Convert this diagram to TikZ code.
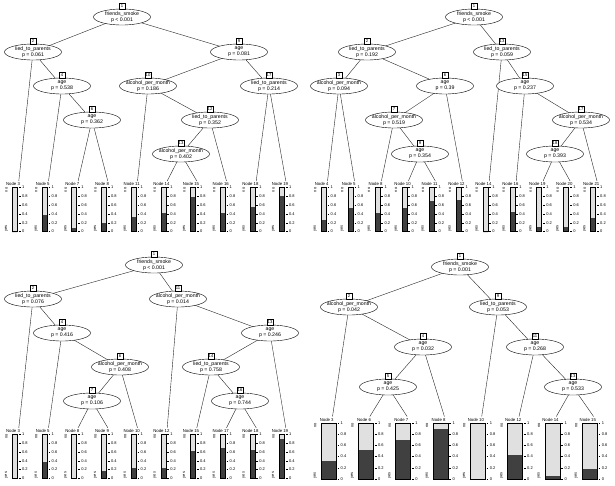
\documentclass[tikz,border=0pt]{standalone}
\usepackage{fontspec}
\setmainfont{Liberation Sans}
\usetikzlibrary{shapes.geometric,calc,backgrounds}
\tikzset{
  inner/.style={ellipse, draw, fill=white, line width=0.4pt, minimum width=57pt, minimum height=16pt, inner sep=0pt},
  itext/.style={font=\fontsize{5.2}{6}\selectfont, align=center, inner sep=0pt},
  idbox/.style={draw, fill=white, line width=0.3pt, font=\fontsize{4.2}{5}\selectfont, inner sep=0.7pt, minimum height=5.5pt, minimum width=5.5pt, anchor=south},
  elab/.style={fill=white, inner sep=0.4pt, font=\fontsize{5.1}{6}\selectfont},
  edge/.style={line width=0.4pt, draw=black!85},
  tlab/.style={font=\fontsize{4.3}{5}\selectfont, inner sep=0pt},
  axlab/.style={font=\fontsize{4}{5}\selectfont, inner sep=0pt, anchor=west},
  lvl/.style={font=\fontsize{4}{5}\selectfont, inner sep=0pt},
  lightfill/.style={fill=black!12},
  darkfill/.style={fill=black!75},
  barframe/.style={line width=0.35pt},
}
% inner node: name, x, y, id, text
\newcommand\inode[5]{%
  \node[inner, label={[itext]center:{#5}}] (#1) at (#2,#3) {};
  \node[idbox] (#1id) at (#1.north) {#4};
}
% terminal node: name, number, xleft, ytop, width, height, fraction yes
\newcommand\termnode[7]{%
  \coordinate (#1) at ({#3+#5/2+4},{#4-6.5});
  \fill[lightfill] (#3,#4) rectangle ({#3+#5},{#4+#6});
  \fill[darkfill] (#3,{#4+#6}) rectangle ({#3+#5},{#4+#6-#7*#6});
  \draw[barframe] (#3,#4) rectangle ({#3+#5},{#4+#6});
  \foreach \axv/\axt in {0/0,0.2/0.2,0.4/0.4,0.6/0.6,0.8/0.8,1/1}{
    \draw[barframe] ({#3+#5+1.5},{#4+#6-\axv*#6}) -- ({#3+#5+3.2},{#4+#6-\axv*#6});
    \node[axlab] at ({#3+#5+4.5},{#4+#6-\axv*#6}) {\axt};
  }
  \node[tlab] (#1lab) at ({#3+#5/2-1.8},{#4-3.5}) {Node #2};
  \node[lvl, rotate=90, anchor=east] at ({#3-5.8},#4) {no};
  \node[lvl, rotate=90, anchor=west] at ({#3-5.8},{#4+#6}) {yes};
}
% edge: parent, child point, label y, label text
\newcommand\tedge[4]{%
  \draw[edge] (#1.center) -- (#2);
  \path let \p1=(#1.center), \p2=(#2) in
    node[elab] at ($(#1.center)!{(#3+(\y1))/((\y1)-(\y2))}!(#2)$) {#4};
}
\begin{document}
\begin{tikzpicture}[x=1pt,y=-1pt]
\path[use as bounding box] (0,0) rectangle (615,485);

% ================= Panel A (top left)
\inode{A1}{122}{17}{1}{friends\_smoke\\p < 0.001}
\inode{A2}{33}{52}{2}{lied\_to\_parents\\p = 0.061}
\inode{A9}{239}{52}{9}{age\\p = 0.081}
\inode{A4}{62}{86}{4}{age\\p = 0.538}
\inode{A10}{148}{86}{10}{alcohol\_per\_month\\p = 0.186}
\inode{A17}{269}{86}{17}{lied\_to\_parents\\p = 0.214}
\inode{A6}{92}{120}{6}{age\\p = 0.362}
\inode{A12}{210}{120}{12}{lied\_to\_parents\\p = 0.352}
\inode{A13}{181}{154}{13}{alcohol\_per\_month\\p = 0.402}
\termnode{A3}{3}{12.3}{187.5}{5}{44}{0}
\termnode{A5}{5}{42.0}{187.5}{5}{44}{0.38}
\termnode{A7}{7}{71.6}{187.5}{5}{44}{0.07}
\termnode{A8}{8}{101.3}{187.5}{5}{44}{0.19}
\termnode{A11}{11}{131.0}{187.5}{5}{44}{0.32}
\termnode{A14}{14}{160.7}{187.5}{5}{44}{0.42}
\termnode{A15}{15}{190.3}{187.5}{5}{44}{0.79}
\termnode{A16}{16}{220.0}{187.5}{5}{44}{0.41}
\termnode{A18}{18}{249.7}{187.5}{5}{44}{0.55}
\termnode{A19}{19}{279.3}{187.5}{5}{44}{0.81}

% ================= Panel B (top right)
\inode{B1}{474}{17}{1}{friends\_smoke\\p < 0.001}
\inode{B2}{367}{52}{2}{lied\_to\_parents\\p = 0.192}
\inode{B13}{502}{52}{13}{lied\_to\_parents\\p = 0.059}
\inode{B3}{339}{86}{3}{alcohol\_per\_month\\p = 0.094}
\inode{B6}{445}{86}{6}{age\\p = 0.39}
\inode{B15}{525}{86}{15}{age\\p = 0.237}
\inode{B7}{394}{120}{7}{alcohol\_per\_month\\p = 0.519}
\inode{B17}{581}{120}{17}{alcohol\_per\_month\\p = 0.534}
\inode{B9}{420}{154}{9}{age\\p = 0.354}
\inode{B18}{555}{154}{18}{age\\p = 0.393}
\termnode{B4}{4}{321.0}{187.5}{5}{44}{0.26}
\termnode{B5}{5}{348.0}{187.5}{5}{44}{0.53}
\termnode{B8}{8}{374.9}{187.5}{5}{44}{0.41}
\termnode{B10}{10}{401.9}{187.5}{5}{44}{0.53}
\termnode{B11}{11}{428.8}{187.5}{5}{44}{0.70}
\termnode{B12}{12}{455.8}{187.5}{5}{44}{0.71}
\termnode{B14}{14}{482.7}{187.5}{5}{44}{0}
\termnode{B16}{16}{509.7}{187.5}{5}{44}{0.45}
\termnode{B19}{19}{536.6}{187.5}{5}{44}{0.10}
\termnode{B20}{20}{563.6}{187.5}{5}{44}{0.10}
\termnode{B21}{21}{590.5}{187.5}{5}{44}{0.30}

% ================= Panel C (bottom left)
\inode{C1}{154}{265}{1}{friends\_smoke\\p < 0.001}
\inode{C2}{33}{299}{2}{lied\_to\_parents\\p = 0.076}
\inode{C11}{178}{299}{11}{alcohol\_per\_month\\p = 0.014}
\inode{C4}{62}{333}{4}{age\\p = 0.416}
\inode{C13}{270}{333}{13}{age\\p = 0.246}
\inode{C6}{120}{367}{6}{alcohol\_per\_month\\p = 0.408}
\inode{C14}{211}{367}{14}{lied\_to\_parents\\p = 0.758}
\inode{C7}{92}{401}{7}{age\\p = 0.106}
\inode{C16}{240}{401}{16}{age\\p = 0.744}
\termnode{C3}{3}{12.3}{434.3}{5}{44}{0}
\termnode{C5}{5}{42.0}{434.3}{5}{44}{0.36}
\termnode{C8}{8}{71.6}{434.3}{5}{44}{0}
\termnode{C9}{9}{101.3}{434.3}{5}{44}{0.17}
\termnode{C10}{10}{131.0}{434.3}{5}{44}{0.24}
\termnode{C12}{12}{160.7}{434.3}{5}{44}{0.23}
\termnode{C15}{15}{190.3}{434.3}{5}{44}{0.61}
\termnode{C17}{17}{220.0}{434.3}{5}{44}{0.70}
\termnode{C18}{18}{249.7}{434.3}{5}{44}{0.64}
\termnode{C19}{19}{279.3}{434.3}{5}{44}{0.89}

% ================= Panel D (bottom right)
\inode{D1}{460}{267}{1}{friends\_smoke\\p = 0.001}
\inode{D2}{349}{307}{2}{alcohol\_per\_month\\p = 0.042}
\inode{D9}{498}{307}{9}{lied\_to\_parents\\p = 0.053}
\inode{D4}{423}{347}{4}{age\\p = 0.032}
\inode{D11}{535}{347}{11}{age\\p = 0.268}
\inode{D5}{388}{387}{5}{age\\p = 0.425}
\inode{D13}{573}{387}{13}{age\\p = 0.533}
\termnode{D3}{3}{321.0}{423}{15}{56}{0.33}
\termnode{D6}{6}{358.3}{423}{15}{56}{0.52}
\termnode{D7}{7}{395.6}{423}{15}{56}{0.69}
\termnode{D8}{8}{432.9}{423}{15}{56}{0.90}
\termnode{D10}{10}{470.2}{423}{15}{56}{0}
\termnode{D12}{12}{507.5}{423}{15}{56}{0.43}
\termnode{D14}{14}{544.8}{423}{15}{56}{0.06}
\termnode{D15}{15}{582.1}{423}{15}{56}{0.18}

\begin{scope}[on background layer]
% A edges
\tedge{A1}{A2.center}{34.5}{none}
\tedge{A1}{A9.center}{34.5}{one or more}
\tedge{A2}{A3}{69}{no}
\tedge{A2}{A4.center}{69}{yes}
\tedge{A4}{A5}{103}{≤ 12}
\tedge{A4}{A6.center}{103}{> 12}
\tedge{A6}{A7}{154}{≤ 13}
\tedge{A6}{A8}{154}{> 13}
\tedge{A9}{A10.center}{69}{≤ 13}
\tedge{A9}{A17.center}{69}{> 13}
\tedge{A10}{A11}{103}{≤ 1}
\tedge{A10}{A12.center}{103}{> 1}
\tedge{A12}{A13.center}{137}{yes}
\tedge{A12}{A16}{137}{no}
\tedge{A13}{A14}{171}{≤ 3}
\tedge{A13}{A15}{171}{> 3}
\tedge{A17}{A18}{137}{no}
\tedge{A17}{A19}{137}{yes}
% B edges
\tedge{B1}{B2.center}{34.5}{one or more}
\tedge{B1}{B13.center}{34.5}{none}
\tedge{B2}{B3.center}{69}{no}
\tedge{B2}{B6.center}{69}{yes}
\tedge{B3}{B4}{137}{≤ 2}
\tedge{B3}{B5}{137}{> 2}
\tedge{B6}{B7.center}{103}{≤ 13}
\tedge{B6}{B12}{103}{> 13}
\tedge{B7}{B8}{137}{≤ 1}
\tedge{B7}{B9.center}{137}{> 1}
\tedge{B9}{B10}{171}{≤ 12}
\tedge{B9}{B11}{171}{> 12}
\tedge{B13}{B14}{69}{no}
\tedge{B13}{B15.center}{69}{yes}
\tedge{B15}{B16}{103}{≤ 12}
\tedge{B15}{B17.center}{103}{> 12}
\tedge{B17}{B18.center}{137}{≤ 4}
\tedge{B17}{B21}{137}{> 4}
\tedge{B18}{B19}{171}{≤ 14}
\tedge{B18}{B20}{171}{> 14}
% C edges
\tedge{C1}{C2.center}{282}{none}
\tedge{C1}{C11.center}{282}{one or more}
\tedge{C2}{C3}{316}{no}
\tedge{C2}{C4.center}{316}{yes}
\tedge{C4}{C5}{350}{≤ 12}
\tedge{C4}{C6.center}{350}{> 12}
\tedge{C6}{C7.center}{384}{≤ 4}
\tedge{C6}{C10}{384}{> 4}
\tedge{C7}{C8}{418}{≤ 14}
\tedge{C7}{C9}{418}{> 14}
\tedge{C11}{C12}{316}{≤ 1}
\tedge{C11}{C13.center}{316}{> 1}
\tedge{C13}{C14.center}{350}{≤ 15}
\tedge{C13}{C19}{350}{> 15}
\tedge{C14}{C15}{384}{no}
\tedge{C14}{C16.center}{384}{yes}
\tedge{C16}{C17}{418}{≤ 12}
\tedge{C16}{C18}{418}{> 12}
% D edges
\tedge{D1}{D2.center}{287}{one or more}
\tedge{D1}{D9.center}{287}{none}
\tedge{D2}{D3}{327}{≤ 1}
\tedge{D2}{D4.center}{327}{> 1}
\tedge{D4}{D5.center}{367}{≤ 14}
\tedge{D4}{D8}{367}{> 14}
\tedge{D5}{D6}{408}{≤ 12}
\tedge{D5}{D7}{408}{> 12}
\tedge{D9}{D10}{327}{no}
\tedge{D9}{D11.center}{327}{yes}
\tedge{D11}{D12}{367}{≤ 12}
\tedge{D11}{D13.center}{367}{> 12}
\tedge{D13}{D14}{408}{≤ 13}
\tedge{D13}{D15}{408}{> 13}
\end{scope}
\end{tikzpicture}
\end{document}
